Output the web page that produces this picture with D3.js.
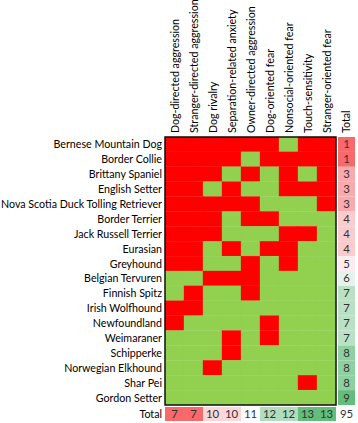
<!DOCTYPE html>
<html><head><meta charset="utf-8">
<script src="https://cdn.jsdelivr.net/npm/d3@7"></script>
<style>html,body{margin:0;padding:0;background:#fff;}svg{display:block;}</style>
</head><body>
<svg id="chart" width="358" height="423"></svg>
<script>
const traits = ["Dog-directed aggression","Stranger-directed aggression","Dog rivalry","Separation-related anxiety","Owner-directed aggression","Dog-oriented fear","Nonsocial-oriented fear","Touch-sensitivity","Stranger-oriented fear"];
const breeds = ["Bernese Mountain Dog","Border Collie","Brittany Spaniel","English Setter","Nova Scotia Duck Tolling Retriever","Border Terrier","Jack Russell Terrier","Eurasian","Greyhound","Belgian Tervuren","Finnish Spitz","Irish Wolfhound","Newfoundland","Weimaraner","Schipperke","Norwegian Elkhound","Shar Pei","Gordon Setter"];
// 1 = green (favourable), 0 = red
const matrix = [
 [0,0,0,0,0,0,1,0,0],
 [0,0,0,0,1,0,0,0,0],
 [0,0,0,1,0,1,0,1,0],
 [0,0,1,0,1,1,0,0,0],
 [0,0,0,0,0,1,1,1,0],
 [0,0,0,1,0,0,1,1,1],
 [0,0,0,1,1,1,0,0,1],
 [0,0,1,0,1,0,0,1,1],
 [0,0,1,1,0,1,0,1,1],
 [1,1,0,0,0,1,1,1,1],
 [1,0,1,1,0,1,1,1,1],
 [0,0,1,1,1,1,1,1,1],
 [0,1,1,1,1,0,1,1,1],
 [1,1,1,0,1,0,1,1,1],
 [1,1,1,0,1,1,1,1,1],
 [1,1,0,1,1,1,1,1,1],
 [1,1,1,1,1,1,1,0,1],
 [1,1,1,1,1,1,1,1,1]
];
const rowTotals = [1,1,3,3,3,4,4,4,5,6,7,7,7,7,8,8,8,9];
const colTotals = [7,7,10,10,11,12,12,13,13];
const grandTotal = 95;
const totalLabel = "Total";

const svg = d3.select("#chart");
const FONT = "Lato, 'Liberation Sans', sans-serif";
const FS = 11.4;
const x = d3.scaleBand().domain(traits).range([165, 336]);
const y = d3.scaleBand().domain(breeds).range([137, 405]);
const totX = d3.scaleBand().domain([totalLabel]).range([338, 355]);
const totY = d3.scaleBand().domain([totalLabel]).range([407, 421]);

const cells = [];
breeds.forEach((b,i)=>traits.forEach((t,j)=>cells.push({b,t,v:matrix[i][j]})));
svg.append("g").selectAll("rect").data(cells).join("rect")
  .attr("x",d=>x(d.t)).attr("y",d=>y(d.b))
  .attr("width",x.bandwidth()).attr("height",y.bandwidth())
  .attr("fill",d=>d.v? "#92D050":"#FF0000")
  .attr("stroke",d=>d.v? "#92D050":"#FF0000").attr("stroke-width",0.3);
svg.append("rect").attr("x",165).attr("y",137).attr("width",171).attr("height",268)
  .attr("fill","none").attr("stroke","#111").attr("stroke-width",1.5);

const rowCol = d3.scaleLinear().domain([d3.min(rowTotals), d3.median(rowTotals), d3.max(rowTotals)]).range(["#F8696B","#FCFCFF","#63BE7B"]);
const colCol = d3.scaleLinear().domain([d3.min(colTotals), d3.median(colTotals), d3.max(colTotals)]).range(["#F8696B","#FCFCFF","#63BE7B"]);

// row labels (measure to find horizontal compression so longest fits)
const rl = svg.append("g").selectAll("text").data(breeds).join("text")
  .attr("text-anchor","end").attr("dy","0.35em").attr("font-family",FONT).attr("font-size",FS).attr("fill","#000")
  .text(d=>d);
const maxW = d3.max(rl.nodes(), n=>n.getComputedTextLength());
const k = Math.min(1, 161/maxW);
rl.attr("transform",d=>`translate(162,${y(d)+y.bandwidth()/2}) scale(${k},1)`);

// headers
svg.append("g").selectAll("text").data(traits).join("text")
  .attr("transform",d=>`translate(${x(d)+x.bandwidth()/2+0.5},133) rotate(-90) scale(${k},1)`)
  .attr("dy","0.35em").attr("font-family",FONT).attr("font-size",FS).text(d=>d);
svg.append("text").attr("transform",`translate(${totX(totalLabel)+totX.bandwidth()/2},133) rotate(-90) scale(${k},1)`)
  .attr("dy","0.35em").attr("font-family",FONT).attr("font-size",FS).text(totalLabel);

// total column
svg.append("g").selectAll("rect").data(breeds).join("rect")
  .attr("x",totX(totalLabel)).attr("y",d=>y(d)).attr("width",totX.bandwidth()).attr("height",y.bandwidth())
  .attr("fill",(d,i)=>rowCol(rowTotals[i]));
svg.append("g").selectAll("text").data(breeds).join("text")
  .attr("x",totX(totalLabel)+totX.bandwidth()/2).attr("y",d=>y(d)+y.bandwidth()/2).attr("dy","0.35em")
  .attr("text-anchor","middle").attr("font-family",FONT).attr("font-size",FS).attr("fill","#333")
  .text((d,i)=>rowTotals[i]);

// total row
svg.append("g").selectAll("rect").data(traits).join("rect")
  .attr("x",d=>x(d)).attr("y",totY(totalLabel)).attr("width",x.bandwidth()).attr("height",totY.bandwidth())
  .attr("fill",(d,i)=>colCol(colTotals[i]));
svg.append("g").selectAll("text").data(traits).join("text")
  .attr("x",d=>x(d)+x.bandwidth()/2).attr("y",totY(totalLabel)+totY.bandwidth()/2).attr("dy","0.35em")
  .attr("text-anchor","middle").attr("font-family",FONT).attr("font-size",FS).attr("fill","#333")
  .text((d,i)=>colTotals[i]);
svg.append("text").attr("transform",`translate(162,${totY(totalLabel)+totY.bandwidth()/2}) scale(${k},1)`).attr("dy","0.35em")
  .attr("text-anchor","end").attr("font-family",FONT).attr("font-size",FS).text(totalLabel);
svg.append("text").attr("x",totX(totalLabel)+totX.bandwidth()/2).attr("y",totY(totalLabel)+totY.bandwidth()/2).attr("dy","0.35em")
  .attr("text-anchor","middle").attr("font-family",FONT).attr("font-size",FS).attr("fill","#333").text(grandTotal);
</script>
</body></html>
